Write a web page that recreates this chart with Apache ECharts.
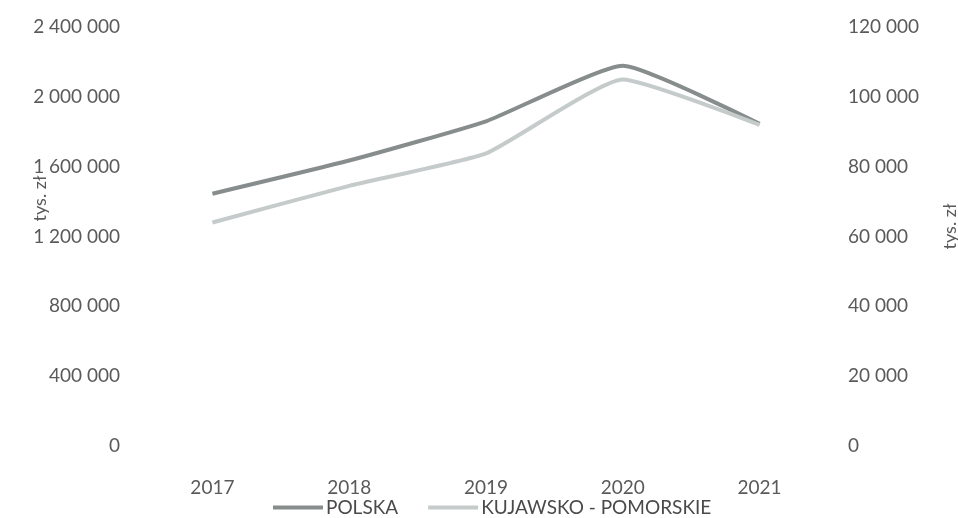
<!DOCTYPE html>
<html>
<head>
<meta charset="utf-8">
<script src="https://cdn.jsdelivr.net/npm/echarts@6/dist/echarts.min.js"></script>
<style>
  html, body { margin: 0; padding: 0; background: #fff; }
  #chart { width: 958px; height: 518px; }
</style>
</head>
<body>
<div id="chart"></div>
<script>
// Years on the category axis
const years = ['2017', '2018', '2019', '2020', '2021'];
// Poland total (left axis, tys. zł)
const polska = [1445000, 1635000, 1860000, 2178000, 1845000];
// Kujawsko-pomorskie voivodeship (right axis, tys. zł)
const kujawskoPomorskie = [64000, 74500, 83800, 105000, 92000];
// Series names shown in the legend
const seriesNames = ['POLSKA', 'KUJAWSKO - POMORSKIE'];

const textColor = '#5a5a5a';
const fontFamily = 'Lato, "Open Sans", sans-serif';
const fontSize = 19;

function spaced(v) {
  return String(v).replace(/\B(?=(\d{3})+(?!\d))/g, ' ');
}

const chart = echarts.init(document.getElementById('chart'), null, { renderer: 'canvas' });

chart.setOption({
  backgroundColor: '#fff',
  animation: false,
  grid: { left: 144, right: 130, top: 27, bottom: 72, containLabel: false, outerBoundsMode: 'none' },
  legend: {
    bottom: -4,
    left: 268,
    itemWidth: 50,
    itemHeight: 4,
    itemGap: 30,
    icon: 'rect',
    textStyle: { color: '#4a4a4a', fontSize: fontSize, fontFamily: fontFamily, padding: [0, 0, 0, -2] },
    data: seriesNames
  },
  xAxis: {
    type: 'category',
    data: years,
    boundaryGap: true,
    axisLine: { show: false },
    axisTick: { show: false },
    axisLabel: { color: textColor, fontSize: fontSize, fontFamily: fontFamily, margin: 32 }
  },
  yAxis: [
    {
      type: 'value',
      min: 0, max: 2400000, interval: 400000,
      name: 'tys. zł',
      nameLocation: 'middle',
      nameRotate: 90,
      nameGap: 95,
      nameMoveOverlap: false,
      nameTextStyle: { color: textColor, fontSize: 18, fontFamily: fontFamily, padding: [0, 0, 0, 76] },
      axisLine: { show: false },
      axisTick: { show: false },
      splitLine: { show: false },
      axisLabel: { color: textColor, fontSize: fontSize, fontFamily: fontFamily, margin: 24, formatter: spaced }
    },
    {
      type: 'value',
      min: 0, max: 120000, interval: 20000,
      name: 'tys. zł',
      nameLocation: 'middle',
      nameRotate: 90,
      nameGap: 113,
      nameMoveOverlap: false,
      nameTextStyle: { color: textColor, fontSize: 18, fontFamily: fontFamily, padding: [0, 0, 0, 20] },
      axisLine: { show: false },
      axisTick: { show: false },
      splitLine: { show: false },
      axisLabel: { color: textColor, fontSize: fontSize, fontFamily: fontFamily, margin: 20, formatter: spaced }
    }
  ],
  series: [
    {
      name: seriesNames[0],
      type: 'line',
      yAxisIndex: 0,
      data: polska,
      smooth: 0.15,
      symbol: 'none',
      lineStyle: { color: '#878d8c', width: 4 },
      itemStyle: { color: '#878d8c' }
    },
    {
      name: seriesNames[1],
      type: 'line',
      yAxisIndex: 1,
      data: kujawskoPomorskie,
      smooth: 0.15,
      symbol: 'none',
      lineStyle: { color: '#c5caca', width: 4 },
      itemStyle: { color: '#c5caca' }
    }
  ]
});
</script>
</body>
</html>
